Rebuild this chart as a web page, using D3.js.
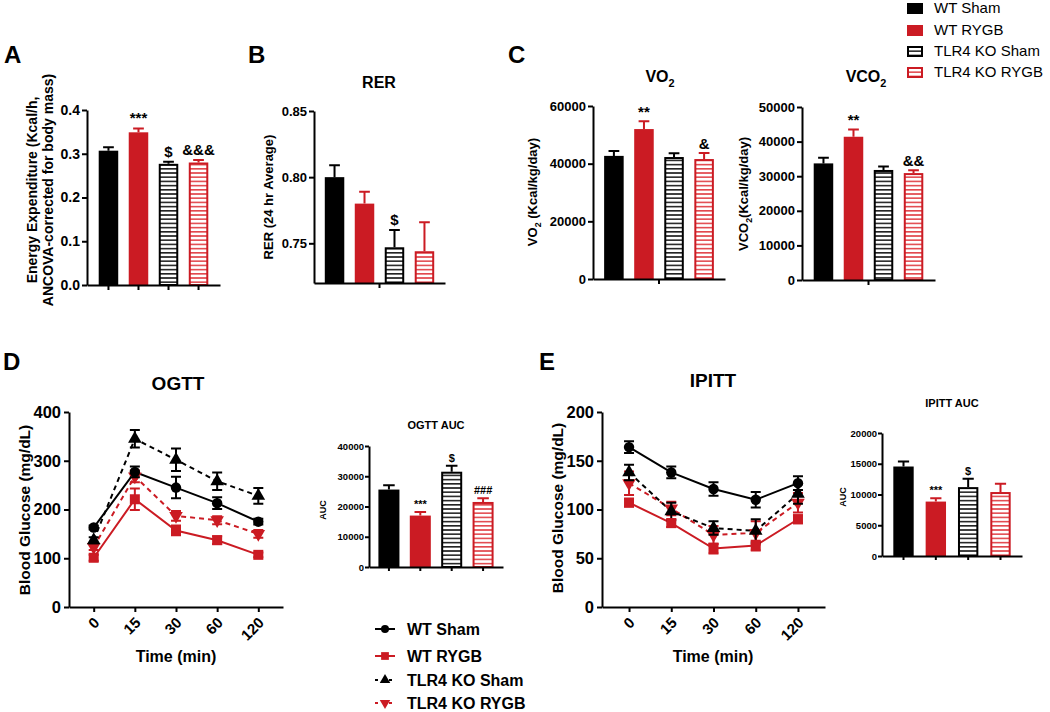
<!DOCTYPE html>
<html><head><meta charset="utf-8">
<script src="https://cdn.jsdelivr.net/npm/d3@7"></script>
<style>body{margin:0;background:#fff;} svg{font-family:"Liberation Sans",Arial,sans-serif;}</style>
</head><body><svg id="c" width="1050" height="712"></svg>
<script>
// ---------- DATA ----------
const groups = ["WT Sham","WT RYGB","TLR4 KO Sham","TLR4 KO RYGB"];
const eeMean = [0.307,0.349,0.277,0.280];
const eeErr  = [0.008,0.009,0.005,0.006];
const eeSig  = ["","***","$","&&&"];
const eeTicks = [0,0.1,0.2,0.3,0.4];
const rerMean = [0.800,0.780,0.747,0.744];
const rerErr  = [0.009,0.009,0.013,0.022];
const rerSig  = ["","","$",""];
const rerTicks = [0.75,0.80,0.85];
const vo2Mean = [42700,52000,42300,41600];
const vo2Err  = [1700,2700,1300,2100];
const vo2Sig  = ["","**","","&"];
const vo2Ticks = [0,20000,40000,60000];
const vco2Mean = [33700,41400,31800,30900];
const vco2Err  = [1600,2100,1000,800];
const vco2Sig  = ["","**","","&&"];
const vco2Ticks = [0,10000,20000,30000,40000,50000];
const timePoints = ["0","15","30","60","120"];
const ogttMean = [
  [163,277,245,213,175],
  [101,221,157,137,107],
  [137,345,302,258,228],
  [123,268,187,178,150]];
const ogttErr = [
  [4,11,22,12,6],
  [6,22,10,8,5],
  [6,18,23,18,16],
  [6,12,10,8,8]];
const ogttTicks = [0,100,200,300,400];
const ipittMean = [
  [164,138,121,110,127],
  [107,86,60,63,90],
  [138,98,81,78,116],
  [127,101,74,76,107]];
const ipittErr = [
  [6,6,7,8,7],
  [4,4,5,5,4],
  [8,9,7,12,10],
  [12,7,9,12,10]];
const ipittTicks = [0,50,100,150,200];
const ogttAucMean = [25600,17000,31500,21500];
const ogttAucErr  = [1400,1200,2000,1200];
const ogttAucSig  = ["","***","$","###"];
const ogttAucTicks = [0,10000,20000,30000,40000];
const ipittAucMean = [14550,8850,11200,10400];
const ipittAucErr  = [800,550,1350,1350];
const ipittAucSig  = ["","***","$",""];
const ipittAucTicks = [0,5000,10000,15000,20000];

// ---------- STYLE ----------
const RED = "#cb1b23", BLACK = "#000";
const svg = d3.select("#c");
const defs = svg.append("defs");
function hatch(id, color){
  const p = defs.append("pattern").attr("id",id).attr("patternUnits","userSpaceOnUse")
    .attr("width",8).attr("height",4.2);
  p.append("rect").attr("width",8).attr("height",4.2).attr("fill","#fff");
  p.append("rect").attr("width",8).attr("height",1.6).attr("fill",color);
}
hatch("hK","#222"); hatch("hR","#e2474d");
const fills = [BLACK, RED, "url(#hK)", "url(#hR)"];
const cols = [BLACK, RED, BLACK, RED];
const hatched = [false,false,true,true];

function txt(x,y,s,size,opt={}){
  const t = svg.append("text").attr("x",x).attr("y",y).attr("font-size",size)
    .attr("font-weight",opt.w||"bold").attr("text-anchor",opt.a||"middle").attr("fill","#000");
  if(opt.rot) t.attr("transform",`rotate(${opt.rot},${x},${y})`);
  if(Array.isArray(s)){
    s.forEach(seg=>{
      const ts=t.append("tspan").text(seg.t);
      if(seg.sub) ts.attr("font-size",size*0.68).attr("dy",size*0.3);
      else if(seg.after) ts.attr("dy",-size*0.3);
    });
  } else t.text(s);
  return t;
}

function styleAxis(g, size){
  g.select(".domain").attr("stroke","#000").attr("stroke-width",2);
  g.selectAll(".tick line").attr("stroke","#000").attr("stroke-width",2);
  g.selectAll(".tick text").attr("font-size",size).attr("font-weight","bold").attr("fill","#000")
    .attr("font-family",'"Liberation Sans",Arial,sans-serif');
}

function barPanel(o){
  const g = svg.append("g");
  const x = d3.scaleBand().domain(groups).range(o.xr).paddingInner(o.pi).paddingOuter(o.po);
  const y = d3.scaleLinear().domain(o.yd).range(o.yr);
  const y0 = o.yr[0], bw = x.bandwidth();
  groups.forEach((d,i)=>{
    const m = o.mean[i], e = o.err[i], xc = x(d)+bw/2;
    const h = hatched[i];
    g.append("rect")
      .attr("x", x(d)+(h?1:0)).attr("y", y(m)+(h?1:0))
      .attr("width", bw-(h?2:0)).attr("height", y0-y(m)-(h?1:0))
      .attr("fill", fills[i]).attr("stroke", h?cols[i]:"none").attr("stroke-width",2);
    const cw = bw*0.55;
    g.append("path").attr("d",`M${xc},${y(m)}V${y(m+e)}M${xc-cw/2},${y(m+e)}H${xc+cw/2}`)
      .attr("stroke",cols[i]).attr("stroke-width",2).attr("fill","none");
    if(o.sig && o.sig[i]) txt(xc, y(m+e)-o.sigGap, o.sig[i], o.sigSize);
  });
  const ya = g.append("g").attr("transform",`translate(${o.xr[0]},0)`)
    .call(d3.axisLeft(y).tickValues(o.ticks).tickFormat(o.fmt).tickSize(o.ts).tickPadding(o.tp).tickSizeOuter(0));
  styleAxis(ya, o.tickSize);
  const xa = g.append("g").attr("transform",`translate(0,${y0})`)
    .call(d3.axisBottom(x).tickSize(o.xAll?o.ts:0).tickFormat("").tickSizeOuter(0));
  styleAxis(xa, 10);
  if(!o.xAll){
    const mid = (o.xr[0]+o.xr[1])/2;
    xa.append("line").attr("x1",mid).attr("x2",mid).attr("y1",0).attr("y2",o.ts)
      .attr("stroke","#000").attr("stroke-width",2);
  }
}

const symbols = [d3.symbolCircle, d3.symbolSquare, d3.symbolTriangle, d3.symbolTriangle];
const symSize = [85, 100, 80, 80];
const symRot = [0,0,0,180];
const dashed = [false,false,true,true];

function linePanel(o){
  const g = svg.append("g");
  const x = d3.scalePoint().domain(timePoints).range(o.xr).padding(o.pad);
  const y = d3.scaleLinear().domain(o.yd).range(o.yr);
  const ya = g.append("g").attr("transform",`translate(${o.xr[0]},0)`)
    .call(d3.axisLeft(y).tickValues(o.ticks).tickSize(5).tickPadding(3).tickSizeOuter(0));
  styleAxis(ya, 16.5);
  const xa = g.append("g").attr("transform",`translate(0,${o.yr[0]})`)
    .call(d3.axisBottom(x).tickSize(5).tickSizeOuter(0).tickFormat(""));
  styleAxis(xa, 15);
  timePoints.forEach(t=>{
    txt(x(t)+3, o.yr[0]+13, t, 15, {a:"end", rot:-45}).attr("dy","0.35em");
  });
  const line = d3.line().x((d,j)=>x(timePoints[j])).y(d=>y(d));
  [3,2,1,0].forEach(i=>{
    g.append("path").attr("d", line(o.mean[i])).attr("fill","none").attr("stroke",cols[i])
      .attr("stroke-width",2).attr("stroke-dasharray", dashed[i]?"5,4":null);
  });
  [3,2,1,0].forEach(i=>{
    o.mean[i].forEach((m,j)=>{
      const xc = x(timePoints[j]), e=o.err[i][j];
      g.append("path").attr("d",`M${xc},${y(m-e)}V${y(m+e)}M${xc-5},${y(m+e)}H${xc+5}M${xc-5},${y(m-e)}H${xc+5}`)
        .attr("stroke",cols[i]).attr("stroke-width",2).attr("fill","none");
      g.append("path").attr("d", d3.symbol().type(symbols[i]).size(symSize[i])())
        .attr("transform",`translate(${xc},${y(m)}) rotate(${symRot[i]})`).attr("fill",cols[i]);
    });
  });
}

// ---------- PANEL LETTERS ----------
txt(4,63,"A",24,{a:"start"});
txt(248,63,"B",24,{a:"start"});
txt(508,63,"C",24,{a:"start"});
txt(3,370,"D",24,{a:"start"});
txt(539,370,"E",24,{a:"start"});

// ---------- A ----------
barPanel({xr:[87,220], pi:0.35, po:0.39, yd:[0,0.4], yr:[285,110], mean:eeMean, err:eeErr, sig:eeSig,
  ticks:eeTicks, fmt:d3.format(".1f"), ts:5, tp:2, tickSize:14, xAll:true, sigSize:15, sigGap:5});
txt(32,190,"Energy Expenditure (Kcal/h,",14,{rot:-90}).attr("dy","0.35em");
txt(48,190,"ANCOVA-corrected for body mass)",14,{rot:-90}).attr("dy","0.35em");

// ---------- B ----------
barPanel({xr:[314,445], pi:0.35, po:0.36, yd:[0.72,0.85], yr:[283,111], mean:rerMean, err:rerErr, sig:rerSig,
  ticks:rerTicks, fmt:d3.format(".2f"), ts:5, tp:2, tickSize:13, xAll:false, sigSize:15, sigGap:5});
txt(379,88,"RER",16);
txt(268,197,"RER (24 hr Average)",13,{rot:-90}).attr("dy","0.35em");

// ---------- C ----------
barPanel({xr:[593,725], pi:0.35, po:0.37, yd:[0,60000], yr:[279,106], mean:vo2Mean, err:vo2Err, sig:vo2Sig,
  ticks:vo2Ticks, fmt:d3.format("d"), ts:5, tp:2, tickSize:13, xAll:false, sigSize:15, sigGap:4});
txt(660,82,[{t:"VO"},{t:"2",sub:true}],16);
txt(537,192,[{t:"VO"},{t:"2",sub:true},{t:" (Kcal/kg/day)",after:true}],13,{rot:-90});

barPanel({xr:[802,935], pi:0.35, po:0.39, yd:[0,50000], yr:[280,107], mean:vco2Mean, err:vco2Err, sig:vco2Sig,
  ticks:vco2Ticks, fmt:d3.format("d"), ts:5, tp:2, tickSize:13, xAll:false, sigSize:15, sigGap:4});
txt(866,82,[{t:"VCO"},{t:"2",sub:true}],16);
txt(748,194,[{t:"VCO"},{t:"2",sub:true},{t:"(Kcal/kg/day)",after:true}],13,{rot:-90});

// ---------- top legend ----------
groups.forEach((gname,i)=>{
  const cy = [8,30,51,72][i];
  svg.append("rect").attr("x",hatched[i]?908:907).attr("y",cy-5+(hatched[i]?1:0))
    .attr("width",hatched[i]?14:16).attr("height",hatched[i]?9:11)
    .attr("fill",fills[i]).attr("stroke",hatched[i]?cols[i]:"none").attr("stroke-width",2);
  txt(934,cy+5,gname,15,{a:"start",w:"normal"});
});

// ---------- D ----------
linePanel({xr:[69,283], pad:0.6, yd:[0,400], yr:[607,412], ticks:ogttTicks, mean:ogttMean, err:ogttErr});
txt(178,390,"OGTT",19);
txt(25,510,"Blood Glucose (mg/dL)",15.5,{rot:-90}).attr("dy","0.35em");
txt(176,662,"Time (min)",16);

barPanel({xr:[369,503], pi:0.33, po:0.3, yd:[0,40000], yr:[567,446], mean:ogttAucMean, err:ogttAucErr, sig:ogttAucSig,
  ticks:ogttAucTicks, fmt:d3.format("d"), ts:4, tp:1, tickSize:9.5, xAll:true, sigSize:11, sigGap:4});
txt(436,429,"OGTT AUC",11);
txt(323,510,"AUC",9,{rot:-90}).attr("dy","0.35em");

// ---------- E ----------
linePanel({xr:[602,825], pad:0.64, yd:[0,200], yr:[607,412], ticks:ipittTicks, mean:ipittMean, err:ipittErr});
txt(713,387,"IPITT",19);
txt(558,508,"Blood Glucose (mg/dL)",15.5,{rot:-90}).attr("dy","0.35em");
txt(713,662,"Time (min)",16);

barPanel({xr:[882,1022], pi:0.37, po:0.35, yd:[0,20000], yr:[556,433], mean:ipittAucMean, err:ipittAucErr, sig:ipittAucSig,
  ticks:ipittAucTicks, fmt:d3.format("d"), ts:4, tp:1, tickSize:9.5, xAll:true, sigSize:11, sigGap:4});
txt(952,407,"IPITT AUC",11);
txt(843,497,"AUC",9,{rot:-90}).attr("dy","0.35em");

// ---------- line legend ----------
groups.forEach((gname,i)=>{
  const cy = [629,656,680,703][i];
  svg.append("path").attr("d",`M375,${cy}H395`).attr("stroke",cols[i]).attr("stroke-width",2)
    .attr("stroke-dasharray",dashed[i]?"3,4":null);
  svg.append("path").attr("d", d3.symbol().type(symbols[i]).size(symSize[i]*0.6)())
    .attr("transform",`translate(385,${cy}) rotate(${symRot[i]})`).attr("fill",cols[i]);
  txt(407,cy,gname,16,{a:"start"}).attr("dy","0.35em");
});
</script></body></html>
